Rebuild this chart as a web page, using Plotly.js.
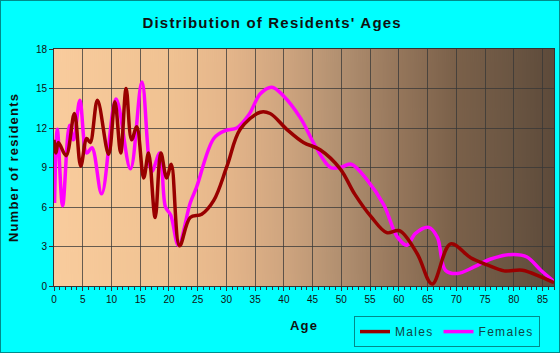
<!DOCTYPE html>
<html><head><meta charset="utf-8">
<script src="https://cdn.plot.ly/plotly-3.0.1.min.js"></script>
<style>
html,body{margin:0;padding:0;background:#00ffff;}
#wrap{position:relative;width:560px;height:353px;}
#chart{width:560px;height:353px;}
#frame{position:absolute;left:0;top:0;width:560px;height:353px;box-sizing:border-box;border:1px solid #008b8b;pointer-events:none;}
.gtitle{letter-spacing:1.2px;}
.g-xtitle text,.g-ytitle text{letter-spacing:1.2px;}
.legendtext{letter-spacing:1.3px;}
</style></head>
<body>
<div id="wrap"><div id="chart"></div><div id="frame"></div></div>
<script>
// ---- data ----
const malesAge = [0,0.35,0.76,2.1,3.55,4.65,5.7,6.3,7.56,9.5,10.6,11.6,12.55,13.5,14.4,15.6,16.45,17.6,18.6,19.6,20.4,21.85,23.7,25.7,27.8,30.1,32.4,35.9,37.6,40.5,43.4,46.3,49.8,52.3,55.2,57.9,60.1,63.2,65.8,69.0,72.5,75.4,78.3,81.5,84.7,87];
const malesCount = [11.1,10.1,10.9,9.9,13.1,9.1,11.2,10.9,14.1,10.0,14.0,10.1,15.0,11.1,12.1,8.2,10.1,5.2,10.1,8.2,9.25,3.05,5.2,5.45,6.5,9.1,11.9,13.2,13.1,11.9,10.9,10.35,8.9,7.0,5.25,4.05,4.2,2.45,0.15,3.2,2.15,1.6,1.15,1.2,0.7,0.25];
const femalesAge = [0.1,0.58,1.5,2.7,3.4,4.5,5.7,6.6,8.3,10.8,13.3,15.3,17.0,18.4,19.4,20.3,21.65,23.7,24.8,27.8,29.8,31.8,33.9,35.9,37.9,39.9,42.9,45.5,48.1,49.8,51.7,54.5,57.4,59.7,61.4,62.9,65.2,66.7,68.1,70.2,73.1,76.0,80.0,82.3,84.7,87];
const femalesCount = [6.3,11.9,6.1,12.2,11.1,14.1,10.1,10.5,7.0,14.2,8.9,15.5,8.7,10.1,6.0,5.4,3.1,6.3,7.5,11.2,11.8,12.0,13.0,14.6,15.1,14.45,12.75,10.6,9.0,9.0,9.25,8.05,6.15,3.75,3.1,4.0,4.45,3.7,1.2,0.95,1.45,2.05,2.4,2.2,1.2,0.35];
const xTickVals = [0,5,10,15,20,25,30,35,40,45,50,55,60,65,70,75,80,85];
const yTickVals = [0,3,6,9,12,15,18];
const seriesNames = ['Males','Females'];
const seriesColors = ['#990000','#ff00ff'];

// background gradient of the plot area
function gradientURL(){
  const c=document.createElement('canvas'); c.width=500; c.height=10;
  const g=c.getContext('2d');
  const gr=g.createLinearGradient(0,0,500,0);
  const stops=[[0,'#f9cc9d'],[0.23,'#f0c292'],[0.35,'#e4b58a'],[0.46,'#cfa57f'],[0.575,'#b18f70'],[0.69,'#95765b'],[0.8,'#7b614a'],[0.92,'#6a5542'],[1,'#5d4a3a']];
  stops.forEach(s=>gr.addColorStop(s[0],s[1]));
  g.fillStyle=gr; g.fillRect(0,0,500,10);
  return c.toDataURL();
}

const font = 'Arial, "Liberation Sans", sans-serif';
const traces = [
  {x: malesAge, y: malesCount, name: seriesNames[0], type:'scatter', mode:'lines',
   line:{color: seriesColors[0], width:3.5, shape:'spline', smoothing:1}, legendrank:1},
  {x: femalesAge, y: femalesCount, name: seriesNames[1], type:'scatter', mode:'lines',
   line:{color: seriesColors[1], width:3.5, shape:'spline', smoothing:1}, legendrank:2}
];
// draw males on top
const data = [traces[1], traces[0]];

const layout = {
  width:560, height:353,
  margin:{l:54, r:6, t:49, b:67, autoexpand:false},
  paper_bgcolor:'#00ffff', plot_bgcolor:'rgba(0,0,0,0)',
  font:{family:font, color:'#111', size:10},
  showlegend:true,
  title:{text:"<b>Distribution of Residents' Ages</b>", x:0.486, xref:'container', xanchor:'center',
         y:1-23/353, yref:'container', yanchor:'middle', font:{family:font, size:15, color:'#111'}},
  xaxis:{range:[0,87], tickvals:xTickVals, ticks:'outside', ticklen:4, tickcolor:'#333',
         showgrid:true, gridcolor:'rgba(55,55,55,0.75)', gridwidth:1,
         showline:true, linecolor:'#333', mirror:true, zeroline:false,
         minor:{dtick:1, tick0:0, ticks:'outside', ticklen:3, tickcolor:'#333', showgrid:false},
         tickfont:{size:10, color:'#111'},
         title:{text:'<b>Age</b>', font:{family:font, size:13, color:'#111'}, standoff:16}},
  yaxis:{range:[0,18], tickvals:yTickVals, ticks:'outside', ticklen:4, tickcolor:'#333',
         showgrid:true, gridcolor:'rgba(55,55,55,0.75)', gridwidth:1,
         showline:true, linecolor:'#333', mirror:true, zeroline:false,
         tickfont:{size:10, color:'#111'},
         title:{text:'<b>Number of residents</b>', font:{family:font, size:13, color:'#111'}, standoff:14}},
  legend:{orientation:'h', x:0.6, y:-0.127, xanchor:'left', yanchor:'top',
          bgcolor:'#00ffff', bordercolor:'#008b8b', borderwidth:1,
          font:{family:font, size:12, color:'#114444'}, itemwidth:30, traceorder:'normal'},
  images:[{source: gradientURL(), xref:'x', yref:'y', x:0, y:18, sizex:87, sizey:18,
           sizing:'stretch', layer:'below', xanchor:'left', yanchor:'top'}]
};
Plotly.newPlot('chart', data, layout, {displayModeBar:false, staticPlot:true});
</script>
</body></html>
